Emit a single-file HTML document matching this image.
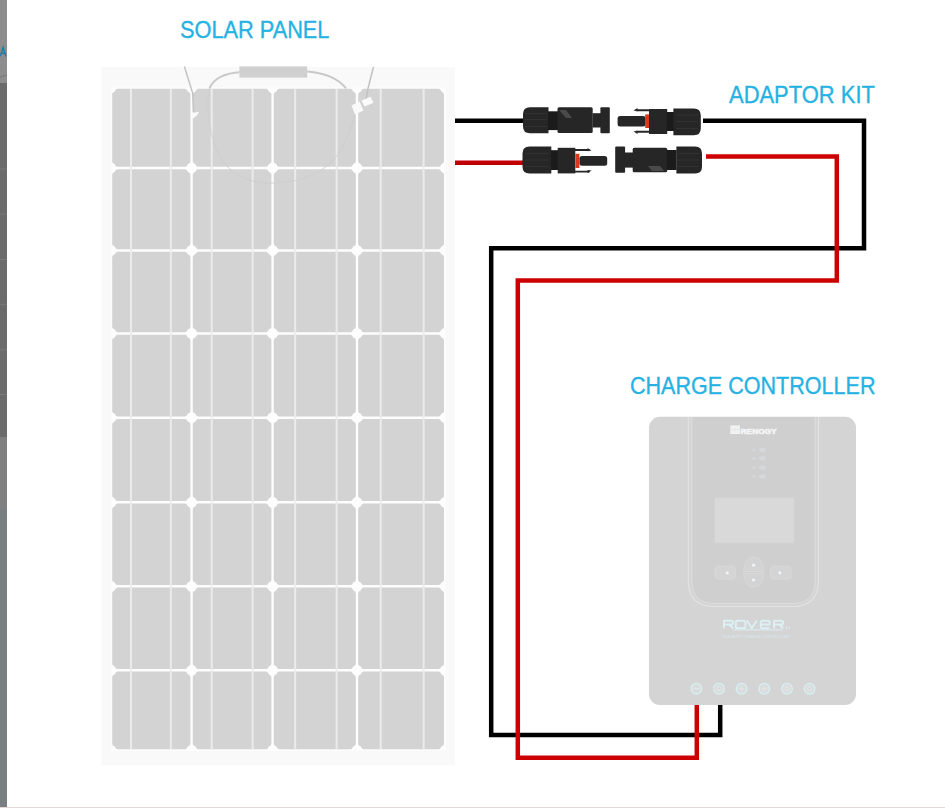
<!DOCTYPE html>
<html><head><meta charset="utf-8"><style>
html,body{margin:0;padding:0;background:#fff;width:945px;height:808px;overflow:hidden}
body{position:relative;font-family:"Liberation Sans",sans-serif}
.t{position:absolute;color:#25b2e3;font-size:24.8px;-webkit-text-stroke:0.35px #25b2e3;white-space:nowrap;line-height:1;transform-origin:0 0}
svg{position:absolute;left:0;top:0}
</style></head><body>
<svg width="945" height="808" viewBox="0 0 945 808">
<rect x="0" y="0" width="7" height="83" fill="#8d8d8d"/>
<path d="M0 77.5 Q3 75.5 7 75" stroke="#777" stroke-width="1" fill="none"/>
<path d="M0.3 56.4 L3.1 47.4 L5.9 56.4 M1.3 53.3 H5" stroke="#1b7da6" stroke-width="1.4" fill="none"/>
<rect x="0" y="83" width="7" height="354" fill="#6b6b6b"/>
<g fill="#7a7a7a"><rect x="0" y="168.5" width="7" height="1"/><rect x="0" y="213.5" width="7" height="1"/><rect x="0" y="259" width="7" height="1"/><rect x="0" y="303.8" width="7" height="1"/><rect x="0" y="349.3" width="7" height="1"/><rect x="0" y="394" width="7" height="1"/></g>
<rect x="0" y="437" width="7" height="72" fill="#808080"/>
<rect x="0" y="509" width="7" height="298" fill="#797e81"/>
<rect x="0" y="807" width="945" height="1" fill="#e2d8d6"/>
<rect x="101.5" y="67" width="353.5" height="698.5" fill="#f9f9f9"/>
<rect x="111" y="87.5" width="334.5" height="663" fill="#fdfdfd"/>
<path d="M117.4,88.8 H185.2 Q186.8,88.8 187.8,91.4 Q190.4,92.4 190.4,94.0 V161.6 Q190.4,163.2 187.8,164.2 Q186.8,166.8 185.2,166.8 H117.4 Q115.8,166.8 114.8,164.2 Q112.2,163.2 112.2,161.6 V94.0 Q112.2,92.4 114.8,91.4 Q115.8,88.8 117.4,88.8 Z" fill="#d3d3d4"/>
<path d="M117.4,169.2 H185.2 Q186.8,169.2 187.8,171.8 Q190.4,172.8 190.4,174.4 V244.0 Q190.4,245.6 187.8,246.6 Q186.8,249.2 185.2,249.2 H117.4 Q115.8,249.2 114.8,246.6 Q112.2,245.6 112.2,244.0 V174.4 Q112.2,172.8 114.8,171.8 Q115.8,169.2 117.4,169.2 Z" fill="#d3d3d4"/>
<path d="M117.4,251.7 H185.2 Q186.8,251.7 187.8,254.2 Q190.4,255.3 190.4,256.9 V327.1 Q190.4,328.7 187.8,329.6 Q186.8,332.2 185.2,332.2 H117.4 Q115.8,332.2 114.8,329.6 Q112.2,328.7 112.2,327.1 V256.9 Q112.2,255.3 114.8,254.2 Q115.8,251.7 117.4,251.7 Z" fill="#d3d3d4"/>
<path d="M117.4,334.8 H185.2 Q186.8,334.8 187.8,337.4 Q190.4,338.3 190.4,339.9 V411.2 Q190.4,412.9 187.8,413.8 Q186.8,416.4 185.2,416.4 H117.4 Q115.8,416.4 114.8,413.8 Q112.2,412.9 112.2,411.2 V339.9 Q112.2,338.3 114.8,337.4 Q115.8,334.8 117.4,334.8 Z" fill="#d3d3d4"/>
<path d="M117.4,418.9 H185.2 Q186.8,418.9 187.8,421.6 Q190.4,422.5 190.4,424.1 V495.9 Q190.4,497.6 187.8,498.5 Q186.8,501.1 185.2,501.1 H117.4 Q115.8,501.1 114.8,498.5 Q112.2,497.6 112.2,495.9 V424.1 Q112.2,422.5 114.8,421.6 Q115.8,418.9 117.4,418.9 Z" fill="#d3d3d4"/>
<path d="M117.4,503.6 H185.2 Q186.8,503.6 187.8,506.2 Q190.4,507.2 190.4,508.8 V579.9 Q190.4,581.5 187.8,582.5 Q186.8,585.1 185.2,585.1 H117.4 Q115.8,585.1 114.8,582.5 Q112.2,581.5 112.2,579.9 V508.8 Q112.2,507.2 114.8,506.2 Q115.8,503.6 117.4,503.6 Z" fill="#d3d3d4"/>
<path d="M117.4,587.6 H185.2 Q186.8,587.6 187.8,590.2 Q190.4,591.2 190.4,592.9 V663.9 Q190.4,665.5 187.8,666.5 Q186.8,669.1 185.2,669.1 H117.4 Q115.8,669.1 114.8,666.5 Q112.2,665.5 112.2,663.9 V592.9 Q112.2,591.2 114.8,590.2 Q115.8,587.6 117.4,587.6 Z" fill="#d3d3d4"/>
<path d="M117.4,671.6 H185.2 Q186.8,671.6 187.8,674.2 Q190.4,675.2 190.4,676.9 V744.0 Q190.4,745.6 187.8,746.6 Q186.8,749.2 185.2,749.2 H117.4 Q115.8,749.2 114.8,746.6 Q112.2,745.6 112.2,744.0 V676.9 Q112.2,675.2 114.8,674.2 Q115.8,671.6 117.4,671.6 Z" fill="#d3d3d4"/>
<path d="M198.0,88.8 H266.2 Q267.8,88.8 268.8,91.4 Q271.4,92.4 271.4,94.0 V161.6 Q271.4,163.2 268.8,164.2 Q267.8,166.8 266.2,166.8 H198.0 Q196.4,166.8 195.4,164.2 Q192.8,163.2 192.8,161.6 V94.0 Q192.8,92.4 195.4,91.4 Q196.4,88.8 198.0,88.8 Z" fill="#d3d3d4"/>
<path d="M198.0,169.2 H266.2 Q267.8,169.2 268.8,171.8 Q271.4,172.8 271.4,174.4 V244.0 Q271.4,245.6 268.8,246.6 Q267.8,249.2 266.2,249.2 H198.0 Q196.4,249.2 195.4,246.6 Q192.8,245.6 192.8,244.0 V174.4 Q192.8,172.8 195.4,171.8 Q196.4,169.2 198.0,169.2 Z" fill="#d3d3d4"/>
<path d="M198.0,251.7 H266.2 Q267.8,251.7 268.8,254.2 Q271.4,255.3 271.4,256.9 V327.1 Q271.4,328.7 268.8,329.6 Q267.8,332.2 266.2,332.2 H198.0 Q196.4,332.2 195.4,329.6 Q192.8,328.7 192.8,327.1 V256.9 Q192.8,255.3 195.4,254.2 Q196.4,251.7 198.0,251.7 Z" fill="#d3d3d4"/>
<path d="M198.0,334.8 H266.2 Q267.8,334.8 268.8,337.4 Q271.4,338.3 271.4,339.9 V411.2 Q271.4,412.9 268.8,413.8 Q267.8,416.4 266.2,416.4 H198.0 Q196.4,416.4 195.4,413.8 Q192.8,412.9 192.8,411.2 V339.9 Q192.8,338.3 195.4,337.4 Q196.4,334.8 198.0,334.8 Z" fill="#d3d3d4"/>
<path d="M198.0,418.9 H266.2 Q267.8,418.9 268.8,421.6 Q271.4,422.5 271.4,424.1 V495.9 Q271.4,497.6 268.8,498.5 Q267.8,501.1 266.2,501.1 H198.0 Q196.4,501.1 195.4,498.5 Q192.8,497.6 192.8,495.9 V424.1 Q192.8,422.5 195.4,421.6 Q196.4,418.9 198.0,418.9 Z" fill="#d3d3d4"/>
<path d="M198.0,503.6 H266.2 Q267.8,503.6 268.8,506.2 Q271.4,507.2 271.4,508.8 V579.9 Q271.4,581.5 268.8,582.5 Q267.8,585.1 266.2,585.1 H198.0 Q196.4,585.1 195.4,582.5 Q192.8,581.5 192.8,579.9 V508.8 Q192.8,507.2 195.4,506.2 Q196.4,503.6 198.0,503.6 Z" fill="#d3d3d4"/>
<path d="M198.0,587.6 H266.2 Q267.8,587.6 268.8,590.2 Q271.4,591.2 271.4,592.9 V663.9 Q271.4,665.5 268.8,666.5 Q267.8,669.1 266.2,669.1 H198.0 Q196.4,669.1 195.4,666.5 Q192.8,665.5 192.8,663.9 V592.9 Q192.8,591.2 195.4,590.2 Q196.4,587.6 198.0,587.6 Z" fill="#d3d3d4"/>
<path d="M198.0,671.6 H266.2 Q267.8,671.6 268.8,674.2 Q271.4,675.2 271.4,676.9 V744.0 Q271.4,745.6 268.8,746.6 Q267.8,749.2 266.2,749.2 H198.0 Q196.4,749.2 195.4,746.6 Q192.8,745.6 192.8,744.0 V676.9 Q192.8,675.2 195.4,674.2 Q196.4,671.6 198.0,671.6 Z" fill="#d3d3d4"/>
<path d="M279.0,88.8 H350.6 Q352.2,88.8 353.2,91.4 Q355.8,92.4 355.8,94.0 V161.6 Q355.8,163.2 353.2,164.2 Q352.2,166.8 350.6,166.8 H279.0 Q277.4,166.8 276.4,164.2 Q273.8,163.2 273.8,161.6 V94.0 Q273.8,92.4 276.4,91.4 Q277.4,88.8 279.0,88.8 Z" fill="#d3d3d4"/>
<path d="M279.0,169.2 H350.6 Q352.2,169.2 353.2,171.8 Q355.8,172.8 355.8,174.4 V244.0 Q355.8,245.6 353.2,246.6 Q352.2,249.2 350.6,249.2 H279.0 Q277.4,249.2 276.4,246.6 Q273.8,245.6 273.8,244.0 V174.4 Q273.8,172.8 276.4,171.8 Q277.4,169.2 279.0,169.2 Z" fill="#d3d3d4"/>
<path d="M279.0,251.7 H350.6 Q352.2,251.7 353.2,254.2 Q355.8,255.3 355.8,256.9 V327.1 Q355.8,328.7 353.2,329.6 Q352.2,332.2 350.6,332.2 H279.0 Q277.4,332.2 276.4,329.6 Q273.8,328.7 273.8,327.1 V256.9 Q273.8,255.3 276.4,254.2 Q277.4,251.7 279.0,251.7 Z" fill="#d3d3d4"/>
<path d="M279.0,334.8 H350.6 Q352.2,334.8 353.2,337.4 Q355.8,338.3 355.8,339.9 V411.2 Q355.8,412.9 353.2,413.8 Q352.2,416.4 350.6,416.4 H279.0 Q277.4,416.4 276.4,413.8 Q273.8,412.9 273.8,411.2 V339.9 Q273.8,338.3 276.4,337.4 Q277.4,334.8 279.0,334.8 Z" fill="#d3d3d4"/>
<path d="M279.0,418.9 H350.6 Q352.2,418.9 353.2,421.6 Q355.8,422.5 355.8,424.1 V495.9 Q355.8,497.6 353.2,498.5 Q352.2,501.1 350.6,501.1 H279.0 Q277.4,501.1 276.4,498.5 Q273.8,497.6 273.8,495.9 V424.1 Q273.8,422.5 276.4,421.6 Q277.4,418.9 279.0,418.9 Z" fill="#d3d3d4"/>
<path d="M279.0,503.6 H350.6 Q352.2,503.6 353.2,506.2 Q355.8,507.2 355.8,508.8 V579.9 Q355.8,581.5 353.2,582.5 Q352.2,585.1 350.6,585.1 H279.0 Q277.4,585.1 276.4,582.5 Q273.8,581.5 273.8,579.9 V508.8 Q273.8,507.2 276.4,506.2 Q277.4,503.6 279.0,503.6 Z" fill="#d3d3d4"/>
<path d="M279.0,587.6 H350.6 Q352.2,587.6 353.2,590.2 Q355.8,591.2 355.8,592.9 V663.9 Q355.8,665.5 353.2,666.5 Q352.2,669.1 350.6,669.1 H279.0 Q277.4,669.1 276.4,666.5 Q273.8,665.5 273.8,663.9 V592.9 Q273.8,591.2 276.4,590.2 Q277.4,587.6 279.0,587.6 Z" fill="#d3d3d4"/>
<path d="M279.0,671.6 H350.6 Q352.2,671.6 353.2,674.2 Q355.8,675.2 355.8,676.9 V744.0 Q355.8,745.6 353.2,746.6 Q352.2,749.2 350.6,749.2 H279.0 Q277.4,749.2 276.4,746.6 Q273.8,745.6 273.8,744.0 V676.9 Q273.8,675.2 276.4,674.2 Q277.4,671.6 279.0,671.6 Z" fill="#d3d3d4"/>
<path d="M363.4,88.8 H438.8 Q440.4,88.8 441.4,91.4 Q444.0,92.4 444.0,94.0 V161.6 Q444.0,163.2 441.4,164.2 Q440.4,166.8 438.8,166.8 H363.4 Q361.8,166.8 360.8,164.2 Q358.2,163.2 358.2,161.6 V94.0 Q358.2,92.4 360.8,91.4 Q361.8,88.8 363.4,88.8 Z" fill="#d3d3d4"/>
<path d="M363.4,169.2 H438.8 Q440.4,169.2 441.4,171.8 Q444.0,172.8 444.0,174.4 V244.0 Q444.0,245.6 441.4,246.6 Q440.4,249.2 438.8,249.2 H363.4 Q361.8,249.2 360.8,246.6 Q358.2,245.6 358.2,244.0 V174.4 Q358.2,172.8 360.8,171.8 Q361.8,169.2 363.4,169.2 Z" fill="#d3d3d4"/>
<path d="M363.4,251.7 H438.8 Q440.4,251.7 441.4,254.2 Q444.0,255.3 444.0,256.9 V327.1 Q444.0,328.7 441.4,329.6 Q440.4,332.2 438.8,332.2 H363.4 Q361.8,332.2 360.8,329.6 Q358.2,328.7 358.2,327.1 V256.9 Q358.2,255.3 360.8,254.2 Q361.8,251.7 363.4,251.7 Z" fill="#d3d3d4"/>
<path d="M363.4,334.8 H438.8 Q440.4,334.8 441.4,337.4 Q444.0,338.3 444.0,339.9 V411.2 Q444.0,412.9 441.4,413.8 Q440.4,416.4 438.8,416.4 H363.4 Q361.8,416.4 360.8,413.8 Q358.2,412.9 358.2,411.2 V339.9 Q358.2,338.3 360.8,337.4 Q361.8,334.8 363.4,334.8 Z" fill="#d3d3d4"/>
<path d="M363.4,418.9 H438.8 Q440.4,418.9 441.4,421.6 Q444.0,422.5 444.0,424.1 V495.9 Q444.0,497.6 441.4,498.5 Q440.4,501.1 438.8,501.1 H363.4 Q361.8,501.1 360.8,498.5 Q358.2,497.6 358.2,495.9 V424.1 Q358.2,422.5 360.8,421.6 Q361.8,418.9 363.4,418.9 Z" fill="#d3d3d4"/>
<path d="M363.4,503.6 H438.8 Q440.4,503.6 441.4,506.2 Q444.0,507.2 444.0,508.8 V579.9 Q444.0,581.5 441.4,582.5 Q440.4,585.1 438.8,585.1 H363.4 Q361.8,585.1 360.8,582.5 Q358.2,581.5 358.2,579.9 V508.8 Q358.2,507.2 360.8,506.2 Q361.8,503.6 363.4,503.6 Z" fill="#d3d3d4"/>
<path d="M363.4,587.6 H438.8 Q440.4,587.6 441.4,590.2 Q444.0,591.2 444.0,592.9 V663.9 Q444.0,665.5 441.4,666.5 Q440.4,669.1 438.8,669.1 H363.4 Q361.8,669.1 360.8,666.5 Q358.2,665.5 358.2,663.9 V592.9 Q358.2,591.2 360.8,590.2 Q361.8,587.6 363.4,587.6 Z" fill="#d3d3d4"/>
<path d="M363.4,671.6 H438.8 Q440.4,671.6 441.4,674.2 Q444.0,675.2 444.0,676.9 V744.0 Q444.0,745.6 441.4,746.6 Q440.4,749.2 438.8,749.2 H363.4 Q361.8,749.2 360.8,746.6 Q358.2,745.6 358.2,744.0 V676.9 Q358.2,675.2 360.8,674.2 Q361.8,671.6 363.4,671.6 Z" fill="#d3d3d4"/>
<rect x="130.0" y="88.8" width="2" height="660.4" fill="#ebebeb"/>
<rect x="169.8" y="88.8" width="2" height="660.4" fill="#ebebeb"/>
<rect x="210.7" y="88.8" width="2" height="660.4" fill="#ebebeb"/>
<rect x="251.6" y="88.8" width="2" height="660.4" fill="#ebebeb"/>
<rect x="294.2" y="88.8" width="2" height="660.4" fill="#ebebeb"/>
<rect x="335.6" y="88.8" width="2" height="660.4" fill="#ebebeb"/>
<rect x="379.7" y="88.8" width="2" height="660.4" fill="#ebebeb"/>
<rect x="422.6" y="88.8" width="2" height="660.4" fill="#ebebeb"/>
<g fill="none" stroke="#c2c2c2" stroke-width="1.5">
<path d="M184.4 66.4 L192.8 93.6 L193.5 112"/>
<path d="M373.5 66.7 L368 88.4 L366 100"/>
</g>
<g fill="none" stroke="#c9c9c9" stroke-width="2">
<path d="M239.4 72.3 Q216 74 209.6 88"/>
<path d="M307.2 71.5 Q335 74 346 88.4"/>
</g>
<g fill="none" stroke="#cdcdcd" stroke-width="1.2" opacity="0.7">
<path d="M209.6 88 Q203 125 222 160 Q240 185 275 183 Q318 182 340 152 Q352 130 357 104"/>
</g>
<rect x="239.4" y="66.4" width="67.8" height="11.2" fill="#d0d0d0"/>
<path d="M190.5 113.3 L199.2 111.8 L196.8 115.6 L192.4 119 Z" fill="#fafafa"/>
<path d="M351.5 105.5 L359.5 101.5 L363.5 110.5 L355 114.5 Z" fill="#fafafa"/>
<path d="M361.5 100.5 L370.5 96.8 L373.5 102.8 L364.5 106.5 Z" fill="#fafafa"/>

<g fill="none" stroke-linecap="butt" stroke-linejoin="miter">
<path d="M455 120.8 H523.5" stroke="#000" stroke-width="4.6"/>
<path d="M455 162.8 H523" stroke="#c00000" stroke-width="4.6"/>
<path d="M703 120.8 H864 V248.2 H491.2 V735 H720.2 V704" stroke="#000" stroke-width="4.5"/>
<path d="M706 156.6 H836.8 V280.5 H517.8 V757.8 H696.8 V704" stroke="#cc0000" stroke-width="4.5"/>
</g>
<path d="M530,107.2 H548.5 V133.3 H530 Q523,133.3 523,126.30000000000001 V114.2 Q523,107.2 530,107.2 Z" fill="#262626"/>
<rect x="525" y="113" width="22" height="1.2" fill="#313131"/><rect x="525" y="119" width="22" height="1.2" fill="#313131"/><rect x="525" y="126" width="22" height="1" fill="#313131"/>
<rect x="548" y="111.3" width="10" height="18.8" fill="#1b1b1b"/>
<rect x="557.5" y="107.3" width="35.2" height="25.6" rx="1.5" fill="#262626"/>
<path d="M559 110 L566 110 L572 118 L566 118 Z" fill="#4a4a4a"/>
<rect x="592.5" y="113.2" width="8.5" height="14.3" fill="#262626"/>
<rect x="600.4" y="107.3" width="9.4" height="26" rx="1" fill="#262626"/>
<rect x="617.6" y="116" width="28" height="10.4" rx="2.5" fill="#262626"/>
<path d="M636 110.2 H650 M636 131.8 H650" stroke="#262626" stroke-width="1.9"/>
<path d="M637.5 108 L633.5 110.6 L637.5 111.2 Z M637.5 134 L633.5 131.4 L637.5 130.8 Z" fill="#262626"/>
<rect x="645.2" y="114.4" width="3.8" height="13.6" fill="#d9381a"/>
<rect x="649" y="109" width="18.2" height="25" fill="#262626"/>
<rect x="666.8" y="112" width="7.4" height="19" fill="#1b1b1b"/>
<path d="M673.4,108.4 H693.8 Q700.8,108.4 700.8,115.4 V128.2 Q700.8,135.2 693.8,135.2 H673.4 Z" fill="#262626"/>
<rect x="676" y="114.5" width="22" height="1.2" fill="#313131"/><rect x="676" y="121" width="22" height="1.2" fill="#313131"/><rect x="676" y="128" width="22" height="1" fill="#313131"/>
<path d="M529.5,146.6 H551.3 V173.4 H529.5 Q522.5,173.4 522.5,166.4 V153.6 Q522.5,146.6 529.5,146.6 Z" fill="#262626"/>
<rect x="525" y="153" width="24" height="1.2" fill="#313131"/><rect x="525" y="159.5" width="24" height="1.2" fill="#313131"/><rect x="525" y="166" width="24" height="1" fill="#313131"/>
<rect x="551" y="150.2" width="7" height="19.8" fill="#1b1b1b"/>
<rect x="557.7" y="147.8" width="17.6" height="25.6" fill="#262626"/>
<path d="M575 150 H589.5 M575 171.6 H589.5" stroke="#262626" stroke-width="1.9"/>
<path d="M587.5 148 L591.5 150.6 L587.5 151.2 Z M587.5 173.2 L591.5 170.6 L587.5 170 Z" fill="#262626"/>
<rect x="575.4" y="153.8" width="4" height="14.2" fill="#d9381a"/>
<rect x="579.5" y="156" width="27.7" height="9.8" rx="2.5" fill="#262626"/>
<rect x="615.2" y="146.6" width="9.9" height="26.2" rx="1" fill="#262626"/>
<rect x="624.8" y="152.5" width="8.2" height="15.1" fill="#262626"/>
<rect x="632.7" y="147.8" width="34.5" height="24.5" rx="1.5" fill="#262626"/>
<path d="M648 166 L660 166 L664 171 L652 171 Z" fill="#4a4a4a"/>
<rect x="666.8" y="150" width="9.8" height="20" fill="#1b1b1b"/>
<path d="M676.4,146.6 H695 Q702,146.6 702,153.6 V166.4 Q702,173.4 695,173.4 H676.4 Z" fill="#262626"/>
<rect x="678" y="153" width="21" height="1.2" fill="#313131"/><rect x="678" y="159.5" width="21" height="1.2" fill="#313131"/><rect x="678" y="166" width="21" height="1" fill="#313131"/>
<rect x="649" y="416.7" width="207" height="288.3" rx="11" fill="#d4d4d5"/>
<path d="M691.5,417 V579.8 Q691.5,603.8 715.5,603.8 H791.5 Q815.5,603.8 815.5,579.8 V417" fill="#cfcfd0"/>
<path d="M688.3,417 V580.5 Q688.3,606.5 714.3,606.5 H792.5 Q818.5,606.5 818.5,580.5 V417" fill="none" stroke="#e2e2e2" stroke-width="1.2"/>
<path d="M691.8,417 V580.5 Q691.8,603.5 714.8,603.5 H792.2 Q815.2,603.5 815.2,580.5 V417" fill="none" stroke="#dedede" stroke-width="1"/>
<rect x="730.4" y="425.4" width="9.4" height="8.6" fill="#f6f6f6"/>
<path d="M732.8 426.3 V433.2 M735.1 426.3 V433.2 M737.4 426.3 V433.2 M731 429.7 H739.2" stroke="#e2e2e2" stroke-width="0.6"/>
<text x="740.6" y="434" font-family="Liberation Sans" font-weight="bold" font-size="7.4" fill="#f6f6f6" stroke="#f6f6f6" stroke-width="0.5" textLength="36" lengthAdjust="spacingAndGlyphs">RENOGY</text>
<circle cx="753.7" cy="450" r="1.5" fill="#d8d8d8"/>
<rect x="759.4" y="448.1" width="6" height="3.8" rx="1.2" fill="#d5d9dc"/>
<circle cx="753.7" cy="458.4" r="1.5" fill="#d8d8d8"/>
<rect x="759.4" y="456.5" width="6" height="3.8" rx="1.2" fill="#d5d9dc"/>
<circle cx="753.7" cy="467.6" r="1.5" fill="#d8d8d8"/>
<rect x="759.4" y="465.70000000000005" width="6" height="3.8" rx="1.2" fill="#d5d9dc"/>
<circle cx="753.7" cy="476.6" r="1.5" fill="#d8d8d8"/>
<rect x="759.4" y="474.70000000000005" width="6" height="3.8" rx="1.2" fill="#d5d9dc"/>
<rect x="714.5" y="497.6" width="79.5" height="45.5" fill="#d9d9d9"/>
<rect x="714.5" y="497.6" width="79.5" height="45.5" fill="none" stroke="#d2d2d2" stroke-width="1"/>
<rect x="715.2" y="566.2" width="20" height="12.8" rx="3" fill="#d4d4d5" stroke="#d9d9d9" stroke-width="1"/>
<rect x="770.4" y="566.2" width="20.6" height="12.8" rx="3" fill="#d4d4d5" stroke="#d9d9d9" stroke-width="1"/>
<path d="M743.6 571.6 Q744.2 557.6 753.6 557.2 Q763 557.6 763.8 571.6 Z" fill="#d3d3d4" stroke="#d9d9d9" stroke-width="1"/>
<path d="M743.6 573.2 Q744.2 586.8 753.6 587.2 Q763 586.8 763.8 573.2 Z" fill="#d3d3d4" stroke="#d9d9d9" stroke-width="1"/>
<circle cx="727.2" cy="572.8" r="1.6" fill="#eef4f7"/>
<circle cx="779.8" cy="572.8" r="1.6" fill="#eef4f7"/>
<circle cx="753.6" cy="565.2" r="1.6" fill="#eef4f7"/>
<circle cx="753.6" cy="580" r="1.6" fill="#eef4f7"/>
<g fill="none" stroke="#dcf0f3" stroke-width="2" stroke-linejoin="round"><path d="M724 628.2 V620.8 H731 Q733 620.8 733 622.6 V623 Q733 624.6 731 624.6 H725 M729 624.6 L733.2 628.2"/><rect x="735.8" y="620.8" width="9.6" height="7.4" rx="1.8"/><path d="M747 620.5 L751.8 628.2 L756.8 620.5"/><path d="M760.8 624.4 H769.6 V622.6 Q769.6 620.8 767.8 620.8 H762.6 Q760.8 620.8 760.8 622.6 V626.4 Q760.8 628.2 762.6 628.2 H769.6"/><path d="M774 628.2 V620.8 H781 Q783 620.8 783 622.6 V623 Q783 624.6 781 624.6 H775 M779 624.6 L783.2 628.2"/></g>
<rect x="733" y="629.3" width="49.5" height="1" fill="#dcedf0"/>
<path d="M786.3 626 V628.6 H788.3 M789.5 626.5 V628.6" stroke="#dcecef" stroke-width="0.9" fill="none"/>
<text x="722.6" y="638" font-family="Liberation Sans" font-size="3.8" fill="#d9e9ec" textLength="67" lengthAdjust="spacingAndGlyphs">20A MPPT CHARGE CONTROLLER</text>
<circle cx="696.4" cy="688.7" r="5.3" fill="#d9dbdc" stroke="#d6eff0" stroke-width="1.4"/>
<circle cx="719.0" cy="688.7" r="5.3" fill="#d9dbdc" stroke="#d6eff0" stroke-width="1.4"/>
<circle cx="741.6" cy="688.7" r="5.3" fill="#d9dbdc" stroke="#d6eff0" stroke-width="1.4"/>
<circle cx="764.3" cy="688.7" r="5.3" fill="#d9dbdc" stroke="#d6eff0" stroke-width="1.4"/>
<circle cx="787.0" cy="688.7" r="5.3" fill="#d9dbdc" stroke="#d6eff0" stroke-width="1.4"/>
<circle cx="809.6" cy="688.7" r="5.3" fill="#d9dbdc" stroke="#d6eff0" stroke-width="1.4"/>
<path d="M693.6 688.7 H699.2" stroke="#e2eeee" stroke-width="1"/>
<path d="M741.6 686.2 V691.2 M739.1 688.7 H744.1" stroke="#e6e6e6" stroke-width="1"/>
<path d="M764.3 686.2 V691.2 M761.8 688.7 H766.8" stroke="#e6e6e6" stroke-width="1"/>
<circle cx="719.0" cy="688.7" r="2" fill="none" stroke="#e4eaea" stroke-width="0.9"/>
<circle cx="787.0" cy="688.7" r="2" fill="none" stroke="#e4eaea" stroke-width="0.9"/>
<circle cx="809.6" cy="688.7" r="2" fill="none" stroke="#e4eaea" stroke-width="0.9"/>
</svg>
<div class="t" style="left:180.0px;top:18px;transform:scaleX(0.877)">SOLAR PANEL</div>
<div class="t" style="left:729.2px;top:83px;transform:scaleX(0.885)">ADAPTOR KIT</div>
<div class="t" style="left:630.3px;top:374px;transform:scaleX(0.869)">CHARGE CONTROLLER</div>
</body></html>
